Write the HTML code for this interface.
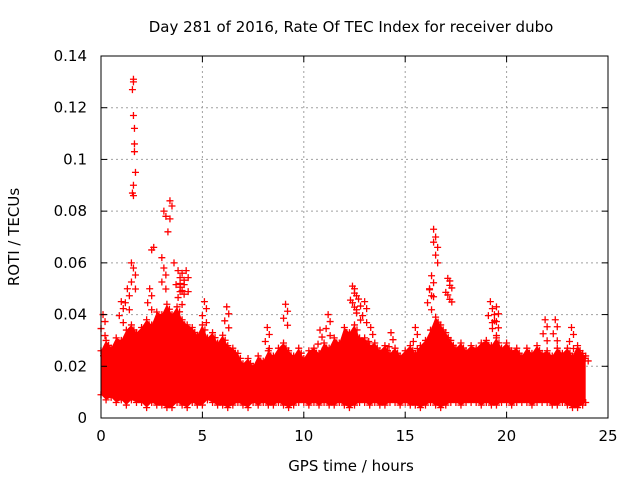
<!DOCTYPE html>
<html><head><meta charset="utf-8"><style>
body{margin:0;background:#fff}
svg{display:block;font-family:"DejaVu Sans","Liberation Sans",sans-serif}
</style></head><body>
<svg id="c" width="640" height="480"></svg>
<script>
const envTimes=[0,0.25,0.5,0.75,1,1.25,1.5,1.75,2,2.25,2.5,2.75,3,3.25,3.5,3.75,4,4.25,4.5,4.75,5,5.25,5.5,5.75,6,6.25,6.5,6.75,7,7.25,7.5,7.75,8,8.25,8.5,8.75,9,9.25,9.5,9.75,10,10.25,10.5,10.75,11,11.25,11.5,11.75,12,12.25,12.5,12.75,13,13.25,13.5,13.75,14,14.25,14.5,14.75,15,15.25,15.5,15.75,16,16.25,16.5,16.75,17,17.25,17.5,17.75,18,18.25,18.5,18.75,19,19.25,19.5,19.75,20,20.25,20.5,20.75,21,21.25,21.5,21.75,22,22.25,22.5,22.75,23,23.25,23.5,23.75,23.9];
const envUpper=[0.026,0.03,0.027,0.031,0.03,0.034,0.036,0.033,0.035,0.038,0.036,0.041,0.04,0.044,0.04,0.043,0.038,0.036,0.035,0.032,0.036,0.031,0.033,0.029,0.032,0.028,0.027,0.025,0.021,0.023,0.02,0.024,0.022,0.026,0.024,0.027,0.029,0.026,0.024,0.027,0.023,0.026,0.027,0.025,0.029,0.027,0.031,0.029,0.035,0.033,0.036,0.031,0.031,0.028,0.029,0.026,0.028,0.025,0.027,0.024,0.026,0.028,0.025,0.028,0.03,0.034,0.039,0.036,0.033,0.03,0.027,0.029,0.026,0.028,0.027,0.029,0.03,0.028,0.031,0.027,0.029,0.026,0.027,0.024,0.027,0.025,0.028,0.025,0.026,0.024,0.027,0.025,0.027,0.024,0.028,0.025,0.024];
const envLower=[0.009,0.007,0.008,0.006,0.007,0.005,0.007,0.006,0.006,0.004,0.006,0.005,0.005,0.004,0.004,0.006,0.005,0.004,0.006,0.005,0.005,0.007,0.006,0.005,0.005,0.004,0.005,0.006,0.005,0.004,0.006,0.005,0.006,0.005,0.005,0.006,0.005,0.004,0.005,0.006,0.006,0.005,0.006,0.005,0.006,0.005,0.005,0.006,0.005,0.004,0.005,0.006,0.006,0.005,0.006,0.005,0.005,0.006,0.006,0.005,0.006,0.005,0.005,0.004,0.005,0.006,0.005,0.004,0.005,0.006,0.006,0.005,0.006,0.006,0.006,0.005,0.006,0.005,0.005,0.006,0.006,0.005,0.006,0.006,0.006,0.005,0.006,0.006,0.006,0.005,0.005,0.006,0.005,0.004,0.004,0.005,0.006];
const spikeTimes=[1.6,1.6,1.55,1.6,1.65,1.65,1.65,1.7,1.6,1.55,1.6,1.5,1.6,1.3,1.0,2.6,2.5,3.1,3.2,3.4,3.5,3.4,3.3,3.0,3.1,3.6,3.8,4.0,4.2,3.9,2.4,5.1,6.2,9.1,12.4,12.5,12.7,13.0,11.2,16.4,16.5,16.4,16.6,16.5,16.6,16.3,16.2,17.1,17.2,19.2,19.5,19.4,21.9,22.4,23.2,15.5,14.3,0.1,8.2,10.8,13.3];
const spikeValues=[0.131,0.13,0.127,0.117,0.112,0.106,0.103,0.095,0.09,0.087,0.086,0.06,0.058,0.05,0.045,0.066,0.065,0.08,0.078,0.084,0.082,0.077,0.072,0.062,0.058,0.06,0.057,0.056,0.057,0.052,0.05,0.045,0.043,0.044,0.051,0.05,0.046,0.045,0.04,0.073,0.07,0.068,0.066,0.063,0.06,0.055,0.05,0.054,0.053,0.045,0.043,0.04,0.038,0.038,0.035,0.035,0.033,0.04,0.035,0.034,0.035];
const xTicks=[0,5,10,15,20,25];
const yTicks=[0,0.02,0.04,0.06,0.08,0.1,0.12,0.14];
const yTickLabels=["0","0.02","0.04","0.06","0.08","0.1","0.12","0.14"];

const L=101,R=608,T=56,B=418;
const xs=t=>L+(t/25)*(R-L);
const ys=v=>B-(v/0.14)*(B-T);
const svg=document.getElementById('c');
const NS='http://www.w3.org/2000/svg';
function mk(tag,attrs,parent){const e=document.createElementNS(NS,tag);for(const k in attrs)e.setAttribute(k,attrs[k]);(parent||svg).appendChild(e);return e;}

const grid=mk('g',{});


xTicks.forEach(t=>{if(t>0&&t<25)mk('line',{x1:xs(t),x2:xs(t),y1:T,y2:B,stroke:'#a0a0a0','stroke-dasharray':'2,3'},grid);});
yTicks.forEach(v=>{if(v>0&&v<0.14)mk('line',{x1:L,x2:R,y1:ys(v),y2:ys(v),stroke:'#a0a0a0','stroke-dasharray':'2,3'},grid);});

const data=mk('g',{});


let pts=envTimes.map((t,i)=>xs(t)+','+ys(envUpper[i]));
for(let i=envTimes.length-1;i>=0;i--)pts.push(xs(envTimes[i])+','+ys(envLower[i]));
const band=mk('polygon',{points:pts.join(' '),fill:'#ff0000'},data);


function plus(x,y){mk('path',{d:`M${x-3.5},${y}h7M${x},${y-3.5}v7`,stroke:'#ff0000','stroke-width':1.3,fill:'none'},data);}
envTimes.forEach((t,i)=>{plus(xs(t),ys(envUpper[i]));plus(xs(t),ys(envLower[i]));plus(xs(t)+2.5,ys(envUpper[i])+5);});
spikeTimes.forEach((t,i)=>{plus(xs(t),ys(spikeValues[i]));});
spikeTimes.forEach((t,i)=>{const v=spikeValues[i];if(v<0.06){for(let k=1;k<=3;k++)plus(xs(t)+(k%2?2:-2),ys(v)+k*7);}});

const ax=mk('g',{});


mk('rect',{x:L,y:T,width:R-L,height:B-T,fill:'none',stroke:'#000','stroke-width':1},ax);
xTicks.forEach(t=>{const x=xs(t);mk('line',{x1:x,x2:x,y1:B,y2:B-6,stroke:'#000'},ax);mk('line',{x1:x,x2:x,y1:T,y2:T+6,stroke:'#000'},ax);
 const tx=mk('text',{x:x,y:B+23,'text-anchor':'middle','font-size':15,fill:'#000'},ax);tx.textContent=t;
 });
yTicks.forEach((v,i)=>{const y=ys(v);mk('line',{x1:L,x2:L+6,y1:y,y2:y,stroke:'#000'},ax);mk('line',{x1:R,x2:R-6,y1:y,y2:y,stroke:'#000'},ax);
 const tx=mk('text',{x:L-14,y:y+5,'text-anchor':'end','font-size':15,fill:'#000'},ax);tx.textContent=yTickLabels[i];
 });

const title=mk('text',{x:351,y:32,'text-anchor':'middle','font-size':15,fill:'#000'});
title.textContent='Day 281 of 2016, Rate Of TEC Index for receiver dubo';

const xl=mk('text',{x:351,y:471,'text-anchor':'middle','font-size':15,fill:'#000'});
xl.textContent='GPS time / hours';

const yl=mk('text',{x:0,y:0,'text-anchor':'middle','font-size':15,fill:'#000',transform:'translate(19,237) rotate(-90)'});
yl.textContent='ROTI / TECUs';

</script>
</body></html>
